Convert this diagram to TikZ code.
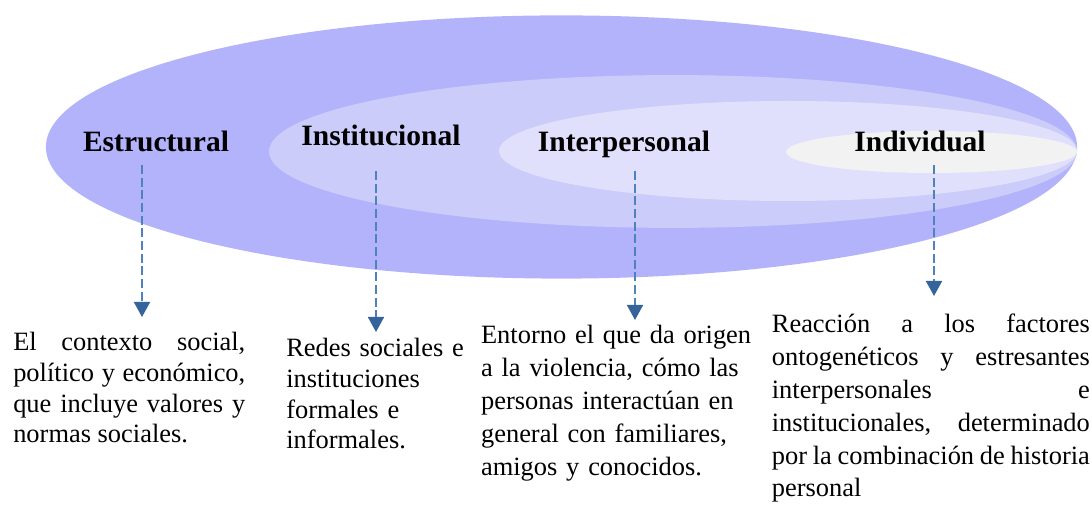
\documentclass[tikz,border=0pt]{standalone}
\usepackage{fontspec}
\setmainfont{Liberation Serif}
\usetikzlibrary{arrows.meta}
\definecolor{capaA}{RGB}{179,179,252}
\definecolor{capaB}{RGB}{204,204,250}
\definecolor{capaC}{RGB}{224,224,252}
\definecolor{capaD}{RGB}{242,242,242}
\definecolor{lineablue}{RGB}{79,129,189}
\definecolor{puntablue}{RGB}{52,100,155}

\begin{document}
\begin{tikzpicture}[
  nivel/.style={font=\fontsize{21}{25}\selectfont\bfseries, anchor=base, inner sep=0pt, outer sep=0.32cm},
  desc/.style={font=\fontsize{18.8}{#1}\selectfont, anchor=base west, inner sep=0pt},
  flecha/.style={lineablue, line width=1.2pt, dash pattern=on 6.4pt off 2.6pt,
    -{Triangle[width=0.4cm, length=0.375cm, color=puntablue]}}
]
  \useasboundingbox (0,0) rectangle (27.3,12.625);
  % nested levels
  \fill[capaA] (14.0375,8.95) ellipse [x radius=12.89, y radius=3.29];
  \fill[capaB] (16.825,8.8375) ellipse [x radius=10.1, y radius=1.91];
  \fill[capaC] (19.7,8.85) ellipse [x radius=7.225, y radius=1.25];
  \fill[capaD] (23.2875,8.825) ellipse [x radius=3.6375, y radius=0.525];
  % level names
  \node[nivel] (estr) at (3.9,8.825) {Estructural};
  \node[nivel] (inst) at (9.525,8.975) {Institucional};
  \node[nivel] (inter) at (15.6,8.825) {Interpersonal};
  \node[nivel] (indiv) at (23.0,8.825) {Individual};
  % arrow ends
  \coordinate (t1) at (3.55,4.7);
  \coordinate (t2) at (9.4,4.325);
  \coordinate (t3) at (15.875,4.625);
  \coordinate (t4) at (23.35,5.225);
  \draw[flecha] (estr.south -| t1) -- (t1);
  \draw[flecha, shorten <=0.3cm] (inst.south -| t2) -- (t2);
  \draw[flecha] (inter.south -| t3) -- (t3);
  \draw[flecha] (indiv.south -| t4) -- (t4);
  % descriptions
  \node[desc=21.8, text width=5.8cm, align=justify] (d1) at (0.325,3.85)
    {El contexto social,\linebreak político y económico,\linebreak que incluye valores y\linebreak normas sociales.};
  \node[desc=21.7, text width=4.6cm, align=left] (d2) at (7.15,3.7)
    {Redes sociales e\\ instituciones\\ formales e\\ informales.};
  \node[desc=23.4, text width=6.9cm, align=left] (d3) at (12.02,4.025)
    {Entorno el que da origen\\ a la violencia, cómo las\\ personas interactúan en\\ general con familiares,\\ amigos y conocidos.};
  \node[desc=23.3, text width=7.95cm, align=justify] (d4) at (19.29,4.3)
    {Reacción a los factores\linebreak ontogenéticos y estresantes\linebreak interpersonales e\linebreak institucionales, determinado\linebreak por la combinación de historia\linebreak personal};
\end{tikzpicture}
\end{document}
